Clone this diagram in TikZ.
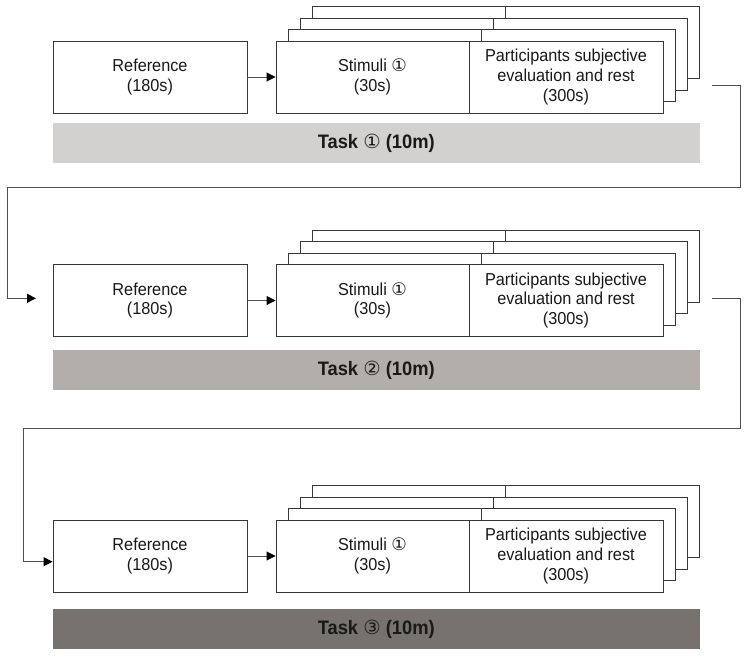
\documentclass[tikz,border=0pt]{standalone}
\usepackage{fontspec}
\setmainfont{Liberation Sans}[FakeStretch=0.94]
\newfontfamily\circfont{DejaVu Sans}
\usetikzlibrary{arrows.meta}
\definecolor{barA}{RGB}{211,208,208}
\definecolor{barB}{RGB}{179,174,171}
\definecolor{barC}{RGB}{119,113,111}
\definecolor{boxline}{RGB}{55,55,55}
\definecolor{conline}{RGB}{80,80,80}
\definecolor{txt}{RGB}{25,25,25}
\newcommand\taskrow[5]{%
  \foreach \k in {3,2,1} {
    \filldraw[layer] ({276+12.3*\k},{#2-11.5*\k}) rectangle ({663+12.3*\k},{#2+72-11.5*\k});
    \draw[layer] ({469+12.3*\k},{#2-11.5*\k}) -- ({469+12.3*\k},{#2+72-11.5*\k});
  }
  \node[box, minimum width=194pt] (ref#1) at (150,{#2+36}) {Reference\\(180s)};
  \node[box, minimum width=193pt] (stim#1) at (372.5,{#2+36}) {Stimuli {\circfont ①}\\(30s)};
  \node[box, minimum width=194pt] (part#1) at (566,{#2+36}) {Participants subjective\\evaluation and rest\\(300s)};
  \draw[arr] (ref#1) -- (stim#1);
  \node[bar, fill=#4] (bar#1) at (376.25,#3) {Task {\circfont\mdseries #5} (10m)};
}
\begin{document}
\begin{tikzpicture}[x=1pt,y=-1pt,
  box/.style={draw=boxline, line width=0.9pt, fill=white, minimum height=72pt, inner sep=0pt,
    align=center, font=\fontsize{17.3}{19.6}\selectfont, text=txt},
  layer/.style={draw=boxline, line width=0.9pt, fill=white},
  bar/.style={minimum width=647.5pt, minimum height=40pt, inner sep=0pt,
    font=\bfseries\fontsize{19.5}{22}\selectfont, text=txt},
  conn/.style={draw=conline, line width=0.9pt},
  arr/.style={conn, -{Triangle[length=9pt,width=9pt,color=black]}}
]
\useasboundingbox (0,0) rectangle (747,659);
\fill[white] (0,0) rectangle (747,659);
\taskrow{1}{41}{143}{barA}{①}
\taskrow{2}{264.5}{370.3}{barB}{②}
\taskrow{3}{520}{629}{barC}{③}
\coordinate (c1s) at (711.6,85);
\coordinate (c1e) at (36,298.3);
\coordinate (c2s) at (711.6,298.3);
\draw[arr] (c1s) -- (740,85) -- (740,187) -- (7,187) |- (c1e);
\draw[arr] (c2s) -- (740,298.3) -- (740,428.3) -- (23,428.3) |- ([yshift=-5.7pt]ref3.west);
\end{tikzpicture}
\end{document}
